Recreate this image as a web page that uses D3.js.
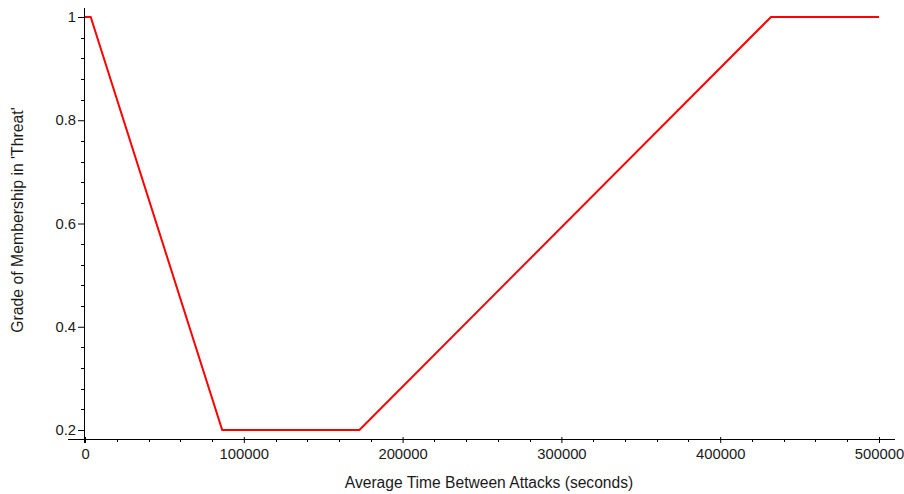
<!DOCTYPE html>
<html>
<head>
<meta charset="utf-8">
<script src="https://cdn.jsdelivr.net/npm/d3@7"></script>
<style>
  html, body { margin: 0; padding: 0; background: #fff; }
  svg { display: block; }
  text { font-family: "Liberation Sans", Arial, sans-serif; fill: #1a1a1a; }
</style>
</head>
<body>
<svg id="chart" width="904" height="494"></svg>
<script>
// Membership function breakpoints: time between attacks (s) -> grade
const times  = [0, 3600, 86400, 172800, 432000, 500000];
const grades = [1, 1, 0.2, 0.2, 1, 1];

const xTickValues = [0, 100000, 200000, 300000, 400000, 500000];
const xTickLabels = ["0", "100000", "200000", "300000", "400000", "500000"];
const yTickValues = [0.2, 0.4, 0.6, 0.8, 1];
const yTickLabels = ["0.2", "0.4", "0.6", "0.8", "1"];

const xTitle = "Average Time Between Attacks (seconds)";
const yTitle = "Grade of Membership in 'Threat'";

const svg = d3.select("#chart");

// Axis lines run a little past the data extent on each side
const x = d3.scaleLinear().domain([-10705, 510076]).range([68, 895]);
const y = d3.scaleLinear().domain([0.1826, 1.0174]).range([439, 8]);

const xAxisY = y(0.1826);
const yAxisX = x(0);

// minor ticks every 20000 s and every 0.04 grade
const xMinor = d3.range(0, 500001, 20000).filter(v => v % 100000 !== 0);
const yMinor = d3.range(0.2, 1.0001, 0.04).map(v => +v.toFixed(2))
  .filter(v => Math.abs(v * 5 - Math.round(v * 5)) > 1e-6);

// X axis
const xAxis = d3.axisBottom(x)
  .tickValues(xTickValues)
  .tickFormat((d, i) => xTickLabels[i])
  .tickSize(4)
  .tickPadding(5);
const gx = svg.append("g").attr("transform", `translate(0,${xAxisY})`).call(xAxis);
gx.select(".domain").attr("stroke", "#000").attr("d", `M${x.range()[0]},0.5H${x.range()[1]}`);
gx.selectAll(".tick line").attr("stroke", "#000").attr("y1", -2);
gx.selectAll(".tick text").attr("font-size", 14.8).attr("fill", "#1a1a1a")
  .attr("font-family", "Liberation Sans, Arial, sans-serif");
gx.append("g").selectAll("line").data(xMinor).join("line")
  .attr("x1", d => Math.round(x(d)) + 0.5).attr("x2", d => Math.round(x(d)) + 0.5)
  .attr("y1", 0).attr("y2", 3).attr("stroke", "#000");

// Y axis
const yAxis = d3.axisLeft(y)
  .tickValues(yTickValues)
  .tickFormat((d, i) => yTickLabels[i])
  .tickSize(7)
  .tickPadding(2);
const gy = svg.append("g").attr("transform", `translate(${yAxisX},0)`).call(yAxis);
gy.select(".domain").attr("stroke", "#000").attr("d", `M-0.5,${y.range()[1]}V${xAxisY + 4}`);
gy.selectAll(".tick line").attr("stroke", "#000");
gy.selectAll(".tick text").attr("font-size", 14.8).attr("fill", "#1a1a1a")
  .attr("font-family", "Liberation Sans, Arial, sans-serif");
gy.append("g").selectAll("line").data(yMinor).join("line")
  .attr("y1", d => Math.round(y(d)) + 0.5).attr("y2", d => Math.round(y(d)) + 0.5)
  .attr("x1", -4).attr("x2", 0).attr("stroke", "#000");

// Membership curve
const pts = times.map((t, i) => [t, grades[i]]);
svg.append("path")
  .datum(pts)
  .attr("fill", "none")
  .attr("stroke", "#ff0000")
  .attr("stroke-width", 2)
  .attr("stroke-linejoin", "miter")
  .attr("d", d3.line().x(d => x(d[0])).y(d => y(d[1])));

// Axis titles
svg.append("text")
  .attr("x", 489).attr("y", 488)
  .attr("text-anchor", "middle")
  .attr("font-size", 15.6)
  .text(xTitle);

svg.append("text")
  .attr("transform", `translate(23,220) rotate(-90)`)
  .attr("text-anchor", "middle")
  .attr("font-size", 15.8)
  .text(yTitle);
</script>
</body>
</html>
